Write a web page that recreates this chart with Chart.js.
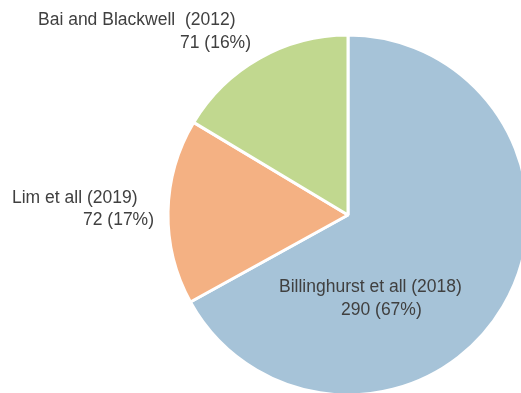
<!DOCTYPE html>
<html>
<head>
<meta charset="utf-8">
<script src="https://cdn.jsdelivr.net/npm/chart.js@4"></script>
<style>
html,body{margin:0;padding:0;background:#fff;overflow:hidden;width:521px;height:393px;}
#wrap{position:absolute;left:0;top:0;width:600px;height:420px;}
</style>
</head>
<body>
<div id="wrap"><canvas id="c" width="600" height="420"></canvas></div>
<script>
const categories = ["Billinghurst et all (2018)", "Lim et all (2019)", "Bai and Blackwell  (2012)"];
const values = [290, 72, 71];
const valueLabels = ["290 (67%)", "72 (17%)", "71 (16%)"];
const colors = ["#a6c3d8", "#f4b183", "#c1d88f"];

// label offsets relative to pie centre: [line1 x, line1 y, line2 x, line2 y]
const labelOffsets = [
  [-69, 72, -7, 95],
  [-336, -17, -265, 5],
  [-310, -195, -168, -172]
];

const labelPlugin = {
  id: 'labels',
  afterDraw(chart) {
    const ctx = chart.ctx;
    const meta = chart.getDatasetMeta(0);
    const arc = meta.data[0];
    const cx = arc.x, cy = arc.y;
    ctx.save();
    ctx.font = '17.5px "Liberation Sans", Arial, sans-serif';
    ctx.fillStyle = '#404040';
    ctx.textBaseline = 'middle';
    ctx.textAlign = 'left';
    categories.forEach((name, i) => {
      const o = labelOffsets[i];
      ctx.fillText(name, cx + o[0], cy + o[1]);
      ctx.fillText(valueLabels[i], cx + o[2], cy + o[3]);
    });
    ctx.restore();
  }
};

new Chart(document.getElementById('c'), {
  type: 'pie',
  data: {
    labels: categories,
    datasets: [{
      data: values,
      backgroundColor: colors,
      borderColor: '#ffffff',
      borderWidth: 3,
      hoverOffset: 0
    }]
  },
  options: {
    responsive: false,
    animation: false,
    radius: 180,
    layout: { padding: { left: 168, top: 35, right: 72, bottom: 25 } },
    plugins: { legend: { display: false }, tooltip: { enabled: false } }
  },
  plugins: [labelPlugin]
});
</script>
</body>
</html>
